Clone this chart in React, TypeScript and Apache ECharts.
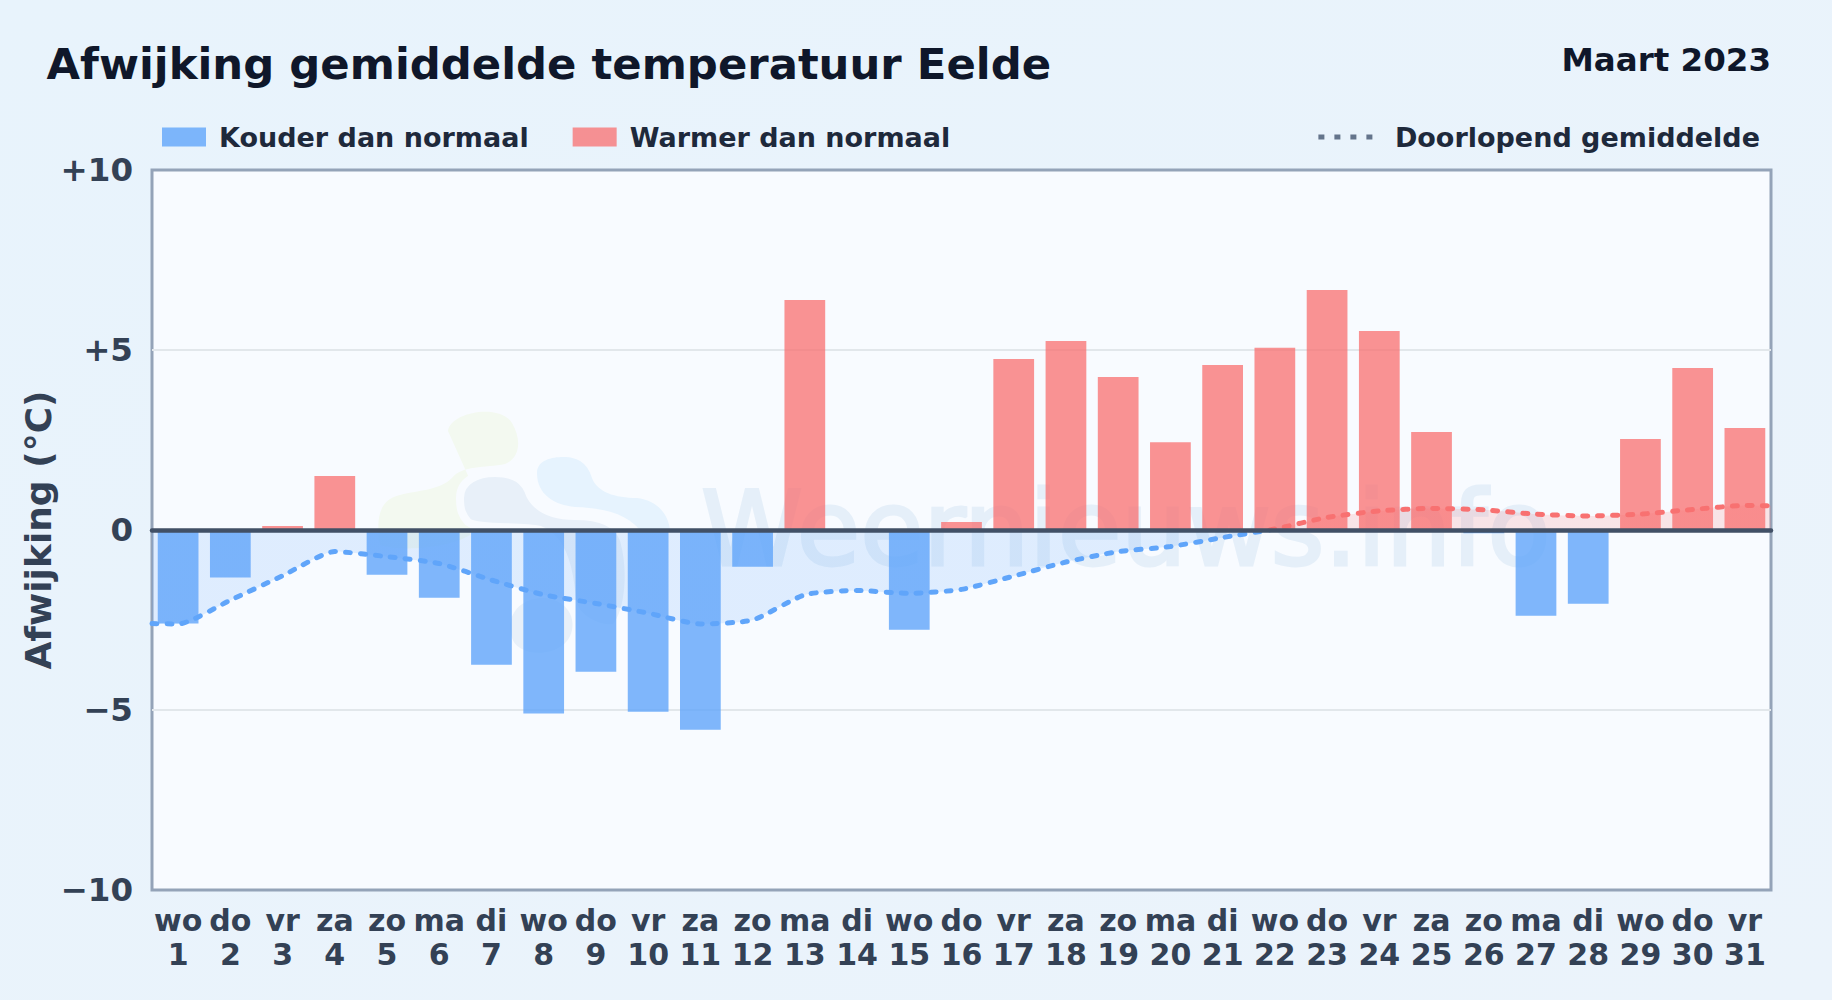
import React, { useEffect, useRef } from "react";
import * as echarts from "echarts";

const weekdays = ["wo","do","vr","za","zo","ma","di","wo","do","vr","za","zo","ma","di","wo","do","vr","za","zo","ma","di","wo","do","vr","za","zo","ma","di","wo","do","vr"];
const days = ["1","2","3","4","5","6","7","8","9","10","11","12","13","14","15","16","17","18","19","20","21","22","23","24","25","26","27","28","29","30","31"];
const colder = [-2.6,-1.32,null,null,-1.24,-1.88,-3.74,-5.1,-3.94,-5.05,-5.55,-1.02,null,null,-2.77,null,null,null,null,null,null,null,null,null,null,-0.09,-2.38,-2.05,null,null,null];
const warmer = [null,null,0.11,1.5,null,null,null,null,null,null,null,null,6.39,null,null,0.22,4.75,5.25,4.25,2.44,4.58,5.06,6.67,5.53,2.72,null,null,null,2.53,4.5,2.83];
const runningAverage = [-2.61,-1.95,-1.27,-0.6,-0.74,-0.93,-1.39,-1.8,-2.04,-2.31,-2.61,-2.5,-1.8,-1.68,-1.76,-1.65,-1.28,-0.89,-0.6,-0.46,-0.21,0.03,0.35,0.53,0.6,0.56,0.44,0.39,0.44,0.57,0.68];
const averageStart = -2.6;
const averageEnd = 0.67;
const yTicks: Record<string, string> = { "10": "+10", "5": "+5", "0": "0", "-5": "\u22125", "-10": "\u221210" };

const SANS = "'DejaVu Sans', sans-serif";

echarts.graphic.registerShape("wmGreen", echarts.graphic.extendPath("M 448 431 C 450 412 500 403 512 423 C 522 440 520 458 505 464 C 485 468 462 465 452 478 C 440 490 420 490 400 495 C 378 500 376 520 380 545 C 400 552 450 548 470 535 L 470 480 Z", {}));
echarts.graphic.registerShape("wmGrey", echarts.graphic.extendPath("M 460 498 C 460 480 478 473 495 473 C 515 473 525 480 530 495 C 538 510 555 516 575 516 C 600 516 618 522 624 540 C 632 570 630 610 615 628 C 600 630 575 620 572 600 C 570 575 565 540 540 530 C 520 525 480 530 468 522 C 462 515 460 510 460 498 Z", {}));
echarts.graphic.registerShape("wmLow", echarts.graphic.extendPath("M 510 625 C 512 605 530 597 545 598 C 565 600 575 615 572 630 C 568 650 545 655 530 652 C 515 648 510 640 510 625 Z", {}));
echarts.graphic.registerShape("wmBlue", echarts.graphic.extendPath("M 537 473 C 537 460 552 457 563 457 C 580 457 588 465 592 478 C 597 492 615 498 637 498 C 655 500 668 512 670 530 L 640 530 C 625 512 600 508 575 507 C 555 505 537 495 537 473 Z", {}));

export default function App() {
  const ref = useRef<HTMLDivElement>(null);
  useEffect(() => {
    document.body.style.margin = "0";
    const chart = echarts.init(ref.current!, null, { renderer: "svg" });
    const linePoints: [number, number][] = [[0.5, averageStart], ...runningAverage.map((v, i) => [i + 1, v] as [number, number]), [31.5, averageEnd]];
    chart.setOption({
      animation: false,
      backgroundColor: new echarts.graphic.LinearGradient(0, 0, 1, 1, [
        { offset: 0, color: "#e8f3fc" },
        { offset: 1, color: "#ebf3fb" },
      ]),
      textStyle: { fontFamily: SANS },
      title: [
        { text: "Afwijking gemiddelde temperatuur Eelde", left: 46.5, top: 42, padding: 0, textStyle: { fontSize: 43.35, fontWeight: "bold", color: "#0f172a", fontFamily: SANS } },
        { text: "Maart 2023", right: 61, top: 43, padding: 0, textStyle: { fontSize: 32.5, fontWeight: "bold", color: "#0f172a", fontFamily: SANS } },
      ],
      legend: [
        {
          data: ["Kouder dan normaal", "Warmer dan normaal"],
          left: 162, top: 123.5, icon: "rect", itemWidth: 44, itemHeight: 19, itemGap: 44, padding: 0,
          textStyle: { fontSize: 27, fontWeight: "bold", color: "#1e293b", fontFamily: SANS, padding: [0, 0, 0, 8] },
          selectedMode: false,
        },
        {
          data: ["Doorlopend gemiddelde"],
          right: 72, top: 123.5, itemWidth: 58, itemHeight: 19, padding: 0,
          lineStyle: { color: "#64748b", width: 5, type: [6, 10], cap: "butt" },
          itemStyle: { opacity: 0 },
          textStyle: { fontSize: 27, fontWeight: "bold", color: "#1e293b", fontFamily: SANS, padding: [0, 0, 0, 13.5] },
          selectedMode: false,
        },
      ],
      grid: { left: 152, right: 61, top: 170, bottom: 110, show: true, backgroundColor: "#f8fbff", borderColor: "#94a3b8", borderWidth: 3 },
      xAxis: [
        {
          type: "category",
          data: weekdays.map((w, i) => `${w}\n${days[i]}`),
          position: "bottom",
          axisLine: { show: false, onZero: false },
          axisTick: { show: false },
          axisLabel: { interval: 0, hideOverlap: false, fontSize: 30, fontWeight: "bold", color: "#334155", fontFamily: SANS, lineHeight: 34, margin: 13 },
        },
        {
          type: "value", min: 0.5, max: 31.5, z: 10,
          axisLine: { show: true, onZero: true, lineStyle: { color: "#415066", width: 4.5 } },
          axisTick: { show: false }, axisLabel: { show: false }, splitLine: { show: false },
        },
      ],
      yAxis: {
        type: "value", min: -10, max: 10, interval: 5,
        name: "Afwijking (°C)", nameLocation: "middle", nameGap: 96, nameMoveOverlap: false,
        nameTextStyle: { fontSize: 36, fontWeight: "bold", color: "#334155", fontFamily: SANS },
        axisLine: { show: false }, axisTick: { show: false },
        splitLine: { showMinLine: false, showMaxLine: false, lineStyle: { color: "#e2e7eb", width: 2 } },
        axisLabel: { formatter: (v: number) => yTicks[String(v)] ?? String(v), fontSize: 32.5, fontWeight: "bold", color: "#334155", fontFamily: SANS, margin: 19 },
      },
      visualMap: {
        show: false, seriesIndex: 2, dimension: 1,
        pieces: [{ min: -100, max: 0, color: "#60a5fa" }, { min: 0, max: 100, color: "#f87171" }],
      },
      series: [
        { name: "Kouder dan normaal", type: "bar", stack: "d", barWidth: "78%", data: colder, itemStyle: { color: "rgba(96,165,250,0.8)" } },
        { name: "Warmer dan normaal", type: "bar", stack: "d", barWidth: "78%", data: warmer, itemStyle: { color: "rgba(248,113,113,0.76)" } },
        {
          name: "Doorlopend gemiddelde", type: "line", xAxisIndex: 1, data: linePoints, smooth: 0.2, symbol: "none", z: 5,
          lineStyle: { width: 5, type: [5, 10], cap: "round" },
          areaStyle: { opacity: 0.17 },
        },
      ],
      graphic: [
        { type: "wmGreen", z: 1, silent: true, style: { fill: "#f3f9f0" } },
        { type: "wmBlue", z: 1, silent: true, style: { fill: "#e6f3fe" } },
        { type: "wmLow", z: 1, silent: true, style: { fill: "#e8f0f9" } },
        { type: "wmGrey", z: 1, silent: true, style: { fill: "#e8f0f9", stroke: "#f8fbff", lineWidth: 8 } },
        { type: "text", z: 1, silent: true, x: 701, y: 529, style: { text: "Weernieuws.info", font: `103px ${SANS}`, fill: "#e5eff9", stroke: "#e5eff9", lineWidth: 3, verticalAlign: "middle" } },
      ],
    });
    return () => chart.dispose();
  }, []);
  return <div ref={ref} style={{ width: 1832, height: 1000 }} />;
}
